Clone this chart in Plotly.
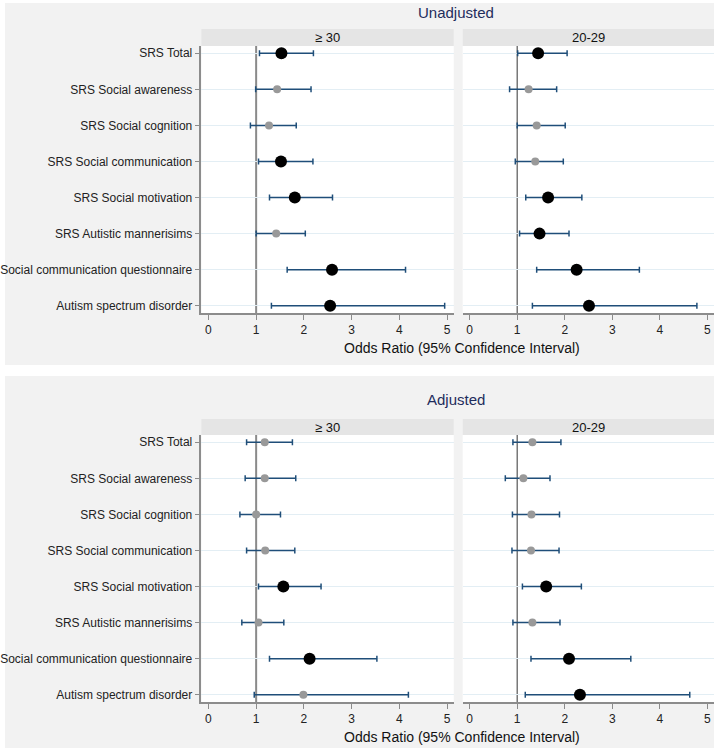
import plotly.graph_objects as go

W, H = 717, 750

outcomes = [
    "SRS Total",
    "SRS Social awareness",
    "SRS Social cognition",
    "SRS Social communication",
    "SRS Social motivation",
    "SRS Autistic mannerisims",
    "Social communication questionnaire",
    "Autism spectrum disorder",
]
groups = ["≥ 30", "20-29"]
panels = ["Unadjusted", "Adjusted"]

# odds ratios, lower and upper 95% CI, significance flag
unadj_30_or = [1.53, 1.44, 1.27, 1.52, 1.81, 1.42, 2.59, 2.55]
unadj_30_lo = [1.07, 0.99, 0.88, 1.05, 1.28, 1.00, 1.65, 1.32]
unadj_30_hi = [2.20, 2.15, 1.84, 2.19, 2.60, 2.03, 4.13, 4.95]
unadj_30_sig = [1, 0, 0, 1, 1, 0, 1, 1]

unadj_20_or = [1.44, 1.24, 1.41, 1.38, 1.65, 1.47, 2.25, 2.51]
unadj_20_lo = [1.01, 0.84, 1.00, 0.96, 1.18, 1.05, 1.41, 1.32]
unadj_20_hi = [2.05, 1.83, 2.01, 1.97, 2.36, 2.09, 3.57, 4.78]
unadj_20_sig = [1, 0, 0, 0, 1, 1, 1, 1]

adj_30_or = [1.18, 1.18, 1.00, 1.19, 1.57, 1.05, 2.12, 1.99]
adj_30_lo = [0.80, 0.77, 0.66, 0.80, 1.05, 0.70, 1.28, 0.96]
adj_30_hi = [1.76, 1.83, 1.51, 1.81, 2.36, 1.58, 3.53, 4.19]
adj_30_sig = [0, 0, 0, 0, 1, 0, 1, 0]

adj_20_or = [1.32, 1.13, 1.30, 1.29, 1.61, 1.32, 2.09, 2.32]
adj_20_lo = [0.91, 0.75, 0.90, 0.89, 1.11, 0.91, 1.29, 1.17]
adj_20_hi = [1.92, 1.69, 1.89, 1.88, 2.35, 1.90, 3.39, 4.63]
adj_20_sig = [0, 0, 0, 0, 1, 0, 1, 1]

data = [
    (unadj_30_or, unadj_30_lo, unadj_30_hi, unadj_30_sig),
    (unadj_20_or, unadj_20_lo, unadj_20_hi, unadj_20_sig),
    (adj_30_or, adj_30_lo, adj_30_hi, adj_30_sig),
    (adj_20_or, adj_20_lo, adj_20_hi, adj_20_sig),
]

FONT = "Liberation Sans, Arial, sans-serif"
BAR = "#1f4e79"


def px(x):
    return x / W


def py(y):
    return 1 - y / H


def label(text, x, y, size, color):
    return dict(text=text, x=px(x), y=py(y), xref="paper", yref="paper",
                xanchor="center", yanchor="middle", showarrow=False,
                font=dict(size=size, color=color, family=FONT))


def box(x0, x1, y0, y1, color):
    return dict(type="rect", xref="paper", yref="paper", layer="below",
                x0=px(x0), x1=px(x1), y0=py(y1), y1=py(y0),
                fillcolor=color, line_width=0)


# pixel layout of the subplots
cols = [(200, 453), (462, 714)]
rows = [(46, 313), (435, 702)]
strips = [(29, 46), (419, 435)]
bgs = [(3, 365), (376, 748)]
titles_y = [12, 399]
xtitle_y = [348, 737]

fig = go.Figure()
shapes = []
annotations = []
layout = {}

for r in range(2):
    shapes.append(box(3, 714, bgs[r][0], bgs[r][1], "#f2f2f2"))
    annotations.append(label(panels[r], 455, titles_y[r], 15, "#1f2d5c"))
    annotations.append(label("Odds Ratio (95% Confidence Interval)", 461, xtitle_y[r], 14, "#111"))
    for c in range(2):
        k = r * 2 + c
        n = "" if k == 0 else str(k + 1)
        xa, ya = "x" + n, "y" + n
        ors, lo, hi, sig = data[k]
        ys = list(range(len(outcomes)))
        for flag in (0, 1):
            idx = [i for i in ys if sig[i] == flag]
            fig.add_trace(go.Scatter(
                x=[ors[i] for i in idx], y=idx, mode="markers", xaxis=xa, yaxis=ya,
                showlegend=False,
                error_x=dict(type="data", symmetric=False,
                             array=[hi[i] - ors[i] for i in idx],
                             arrayminus=[ors[i] - lo[i] for i in idx],
                             color=BAR, thickness=1.5, width=3),
                marker=dict(size=12 if flag else 8,
                            color="#000000" if flag else "#999999", line_width=0),
            ))
        x0, x1 = cols[c]
        y0, y1 = rows[r]
        layout["xaxis" + n] = dict(
            domain=[px(x0), px(x1)], anchor=ya, range=[-0.146, 5.14],
            tickvals=[0, 1, 2, 3, 4, 5], showgrid=False, zeroline=False,
            showline=True, linecolor="#8c8c8c", linewidth=1.5,
            ticks="outside", ticklen=5, tickcolor="#8c8c8c",
            tickfont=dict(size=12, color="#222", family=FONT),
        )
        layout["yaxis" + n] = dict(
            domain=[py(y1), py(y0)], anchor=xa, range=[7.2, -0.2],
            tickvals=list(range(len(outcomes))),
            ticktext=outcomes if c == 0 else [""] * len(outcomes),
            showticklabels=(c == 0), showgrid=True, gridcolor="#e3eef4", gridwidth=1,
            zeroline=False, showline=(c == 0), linecolor="#8c8c8c", linewidth=1.5,
            ticks="outside" if c == 0 else "", ticklen=5, tickcolor="#8c8c8c",
            tickfont=dict(size=12, color="#222", family=FONT),
        )
        # white plot area over the panel background
        shapes.append(box(x0, x1, y0, y1, "white"))
        # strip
        s0, s1 = strips[r]
        shapes.append(box(x0, x1, s0, s1, "#e5e5e5"))
        annotations.append(label(groups[c], (x0 + x1) / 2, (s0 + s1) / 2, 13, "#111"))
        # reference line at OR = 1
        shapes.append(dict(type="line", xref=xa, yref=ya + " domain", x0=1, x1=1, y0=0, y1=1,
                           layer="below",
                           line=dict(color="#8a8a8a" if c == 0 else "#555555",
                                     width=2 if c == 0 else 1.2)))

fig.update_layout(
    width=W, height=H, margin=dict(l=0, r=0, t=0, b=0),
    paper_bgcolor="white", plot_bgcolor="white",
    font=dict(family=FONT), shapes=shapes, annotations=annotations,
    **layout,
)

# drop the default page margin so the 717x750 figure fills the window
fig.write_html("out.html", config={"displayModeBar": False},
               post_script="document.body.style.margin='0';")
